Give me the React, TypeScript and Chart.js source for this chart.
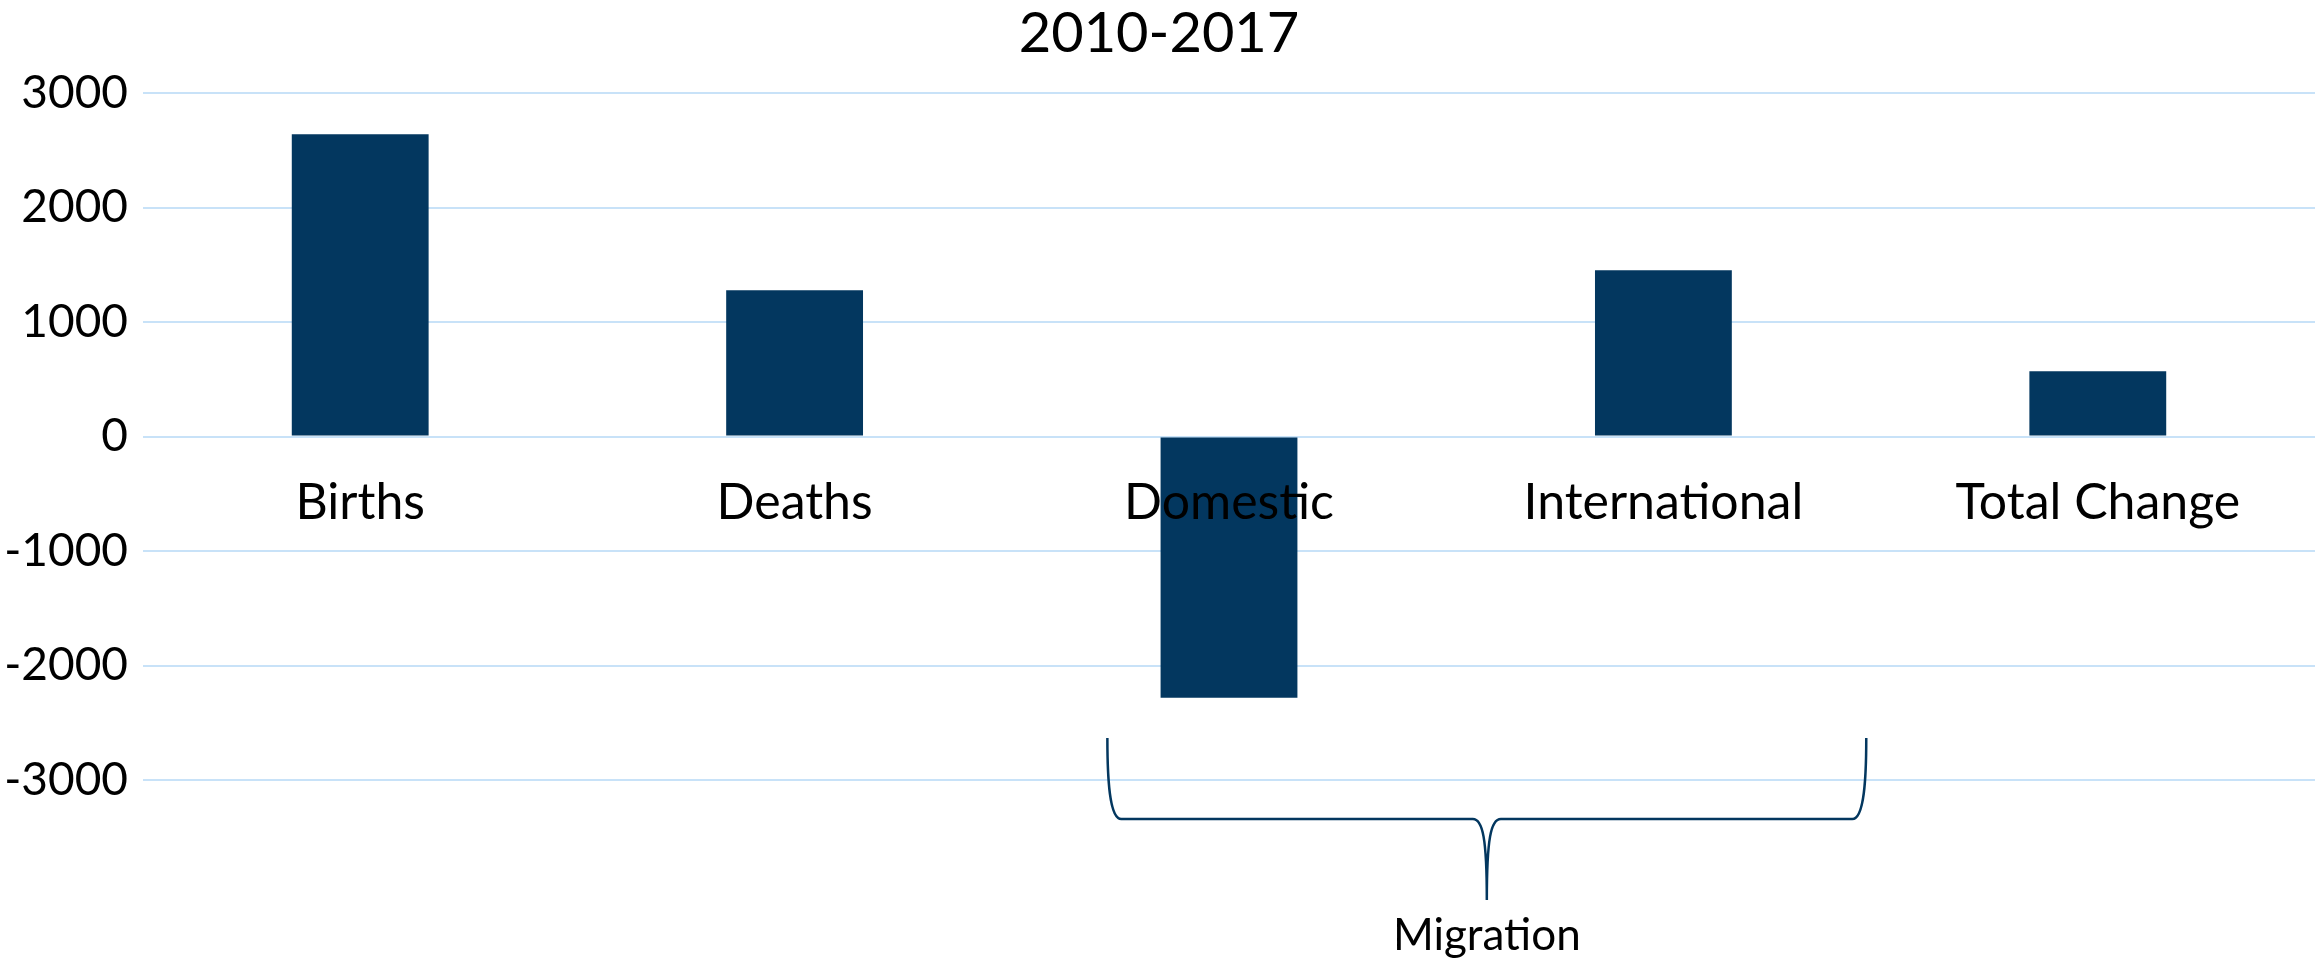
import React, { useEffect, useRef } from "react";
import { Chart, registerables } from "chart.js";

Chart.register(...registerables);

const categories = ["Births", "Deaths", "Domestic", "International", "Total Change"];
const values = [2642, 1279, -2281, 1454, 572];
const yMin = -3000;
const yMax = 3000;
const yStep = 1000;
const titleText = "2010-2017";
const braceLabel = "Migration";

const BAR = "#03375F";
const GRID = "#C8E2F8";
const FONT = "Lato";

const bracePlugin = {
  id: "migrationBrace",
  afterDraw(chart: any) {
    const { ctx, scales } = chart;
    const xs = scales.x;
    const ys = scales.y;
    const w = xs.getPixelForValue(1) - xs.getPixelForValue(0);
    const L = xs.getPixelForValue(2) - 0.28 * w;
    const R = xs.getPixelForValue(3) + 0.467 * w;
    const C = (L + R) / 2;
    const top = ys.getPixelForValue(-2633);
    const mid = ys.getPixelForValue(-3341);
    const tip = ys.getPixelForValue(-4048);
    const lab = ys.getPixelForValue(-4360);
    ctx.save();
    ctx.strokeStyle = BAR;
    ctx.lineWidth = 2.5;
    ctx.beginPath();
    ctx.moveTo(L, top);
    ctx.bezierCurveTo(L, top + 40, L + 2, mid, L + 14, mid);
    ctx.lineTo(C - 14, mid);
    ctx.bezierCurveTo(C - 4, mid, C, mid + 20, C, tip);
    ctx.bezierCurveTo(C, mid + 20, C + 4, mid, C + 14, mid);
    ctx.lineTo(R - 14, mid);
    ctx.bezierCurveTo(R - 2, mid, R, top + 40, R, top);
    ctx.stroke();
    ctx.fillStyle = "#000";
    ctx.font = `44px ${FONT}`;
    ctx.textAlign = "center";
    ctx.textBaseline = "middle";
    ctx.fillText(braceLabel, C, lab);
    ctx.restore();
  },
};

export default function App() {
  const ref = useRef<HTMLCanvasElement | null>(null);
  useEffect(() => {
    document.body.style.margin = "0";
    const chart = new Chart(ref.current as HTMLCanvasElement, {
      type: "bar",
      data: {
        labels: categories,
        datasets: [
          {
            data: values,
            backgroundColor: BAR,
            borderWidth: 0,
            categoryPercentage: 1,
            barPercentage: 0.315,
          },
        ],
      },
      options: {
        animation: false,
        responsive: true,
        maintainAspectRatio: false,
        layout: { padding: { top: 0, left: 0, right: -3, bottom: 179 } },
        plugins: {
          legend: { display: false },
          tooltip: { enabled: false },
          title: {
            display: true,
            text: titleText,
            color: "#000",
            font: { family: FONT, size: 56, weight: "normal" },
            padding: { top: 0, bottom: 26 },
          },
        },
        scales: {
          x: {
            position: { y: 0 } as any,
            grid: { display: false, drawTicks: false },
            border: { display: false },
            ticks: {
              z: 1,
              color: "#000",
              padding: 36,
              font: { family: FONT, size: 50 },
              maxRotation: 0,
              autoSkip: false,
            },
            afterFit(scale: any) {
              scale.height = 0;
            },
          },
          y: {
            min: yMin,
            max: yMax,
            grid: { color: GRID, lineWidth: 2, drawTicks: false },
            border: { display: false },
            ticks: {
              stepSize: yStep,
              color: "#000",
              padding: 15,
              font: { family: FONT, size: 46 },
              callback: (v: any) => String(v),
            },
            afterFit(scale: any) {
              scale.width = 143;
            },
          },
        },
      },
      plugins: [bracePlugin],
    });
    return () => chart.destroy();
  }, []);
  return (
    <div style={{ position: "absolute", left: 0, top: 0, width: 2315, height: 959 }}>
      <canvas ref={ref} />
    </div>
  );
}
